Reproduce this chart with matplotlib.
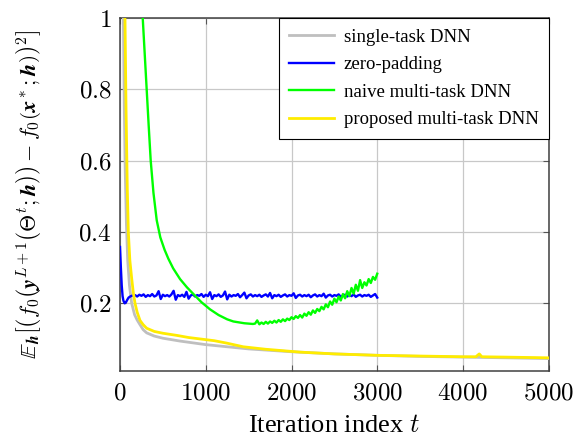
#! /usr/bin/env python3

"""
Convergence of the expected squared objective gap over training iterations.
"""

import matplotlib
matplotlib.use('Agg')
import matplotlib.pyplot as plt
from matplotlib.ticker import FuncFormatter

# single-task DNN
T_SINGLE = [0, 20, 39, 50, 60, 75, 90, 110, 136, 170, 200, 233, 270, 311, 400, 500, 700,
            1000, 1500, 2000, 2500, 3000, 3500, 4000, 4500, 5000]
Y_SINGLE = [2.5, 1.5, 1.0, 0.75, 0.58, 0.42, 0.32, 0.25, 0.2, 0.168, 0.153, 0.14, 0.126, 0.117, 0.108,
            0.102, 0.094, 0.084, 0.072, 0.064, 0.058, 0.054, 0.051, 0.049, 0.047, 0.045]

# proposed multi-task DNN
T_PROPOSED = [0, 20, 40, 58, 70, 85, 97, 115, 136, 155, 175, 200, 233, 270, 311, 400, 500, 661, 800,
              1000, 1100, 1250, 1437, 1700, 2100, 2500, 3000, 3500, 4000, 4150, 4190, 4220, 4500, 5000]
Y_PROPOSED = [3.0, 2.0, 1.3, 1.0, 0.75, 0.52, 0.40, 0.32, 0.27, 0.23, 0.2, 0.175, 0.152, 0.14, 0.13, 0.121,
              0.116, 0.11, 0.104, 0.098, 0.095, 0.088, 0.078, 0.071, 0.063, 0.058, 0.054, 0.052, 0.050,
              0.050, 0.058, 0.050, 0.049, 0.047]

# zero-padding: fast drop, then a noisy plateau up to t = 3000
T_ZERO_HEAD = [0, 10, 20, 30, 40, 55, 70, 85, 100, 125, 150]
Y_ZERO_HEAD = [0.358, 0.30, 0.25, 0.22, 0.207, 0.200, 0.203, 0.210, 0.216, 0.220, 0.222]
T_ZERO_TAIL = list(range(175, 3001, 25))
Y_ZERO_TAIL = [
    0.223, 0.219, 0.224, 0.221, 0.225, 0.218, 0.223, 0.220, 0.226, 0.219,
    0.222, 0.234, 0.212, 0.224, 0.220, 0.223, 0.219, 0.225, 0.235, 0.210,
    0.223, 0.220, 0.224, 0.218, 0.232, 0.213, 0.222, 0.225, 0.219, 0.223,
    0.221, 0.226, 0.218, 0.224, 0.220, 0.231, 0.212, 0.223, 0.220, 0.225,
    0.218, 0.222, 0.233, 0.211, 0.224, 0.219, 0.223, 0.221, 0.226, 0.217,
    0.223, 0.230, 0.214, 0.222, 0.225, 0.219, 0.223, 0.220, 0.224, 0.218,
    0.222, 0.225, 0.219, 0.229, 0.214, 0.223, 0.220, 0.224, 0.218, 0.222,
    0.225, 0.219, 0.223, 0.221, 0.228, 0.215, 0.222, 0.224, 0.219, 0.223,
    0.220, 0.224, 0.217, 0.222, 0.225, 0.219, 0.223, 0.220, 0.227, 0.216,
    0.222, 0.224, 0.219, 0.223, 0.221, 0.225, 0.218, 0.222, 0.224, 0.219,
    0.223, 0.220, 0.225, 0.218, 0.222, 0.224, 0.219, 0.223, 0.221, 0.224,
    0.218, 0.222, 0.226, 0.216,
]

# naive multi-task DNN: smooth decay, then noisy rise up to t = 3000
T_NAIVE_HEAD = [200, 240, 265, 288, 311, 334, 358, 390, 428, 470, 520, 564, 620, 700, 780, 856, 950,
                1050, 1150, 1250, 1322, 1450, 1550]
Y_NAIVE_HEAD = [1.4, 1.12, 1.0, 0.9, 0.8, 0.7, 0.6, 0.51, 0.433, 0.385, 0.35, 0.325, 0.298, 0.268,
                0.245, 0.226, 0.203, 0.183, 0.167, 0.155, 0.149, 0.144, 0.142]
T_NAIVE_TAIL = list(range(1575, 3001, 25))
Y_NAIVE_TAIL = [
    0.143, 0.152, 0.141, 0.146, 0.142, 0.148, 0.143, 0.149, 0.145, 0.151,
    0.146, 0.153, 0.148, 0.155, 0.150, 0.157, 0.153, 0.161, 0.156, 0.164,
    0.159, 0.167, 0.160, 0.171, 0.165, 0.175, 0.168, 0.180, 0.173, 0.184,
    0.178, 0.190, 0.183, 0.197, 0.189, 0.205, 0.196, 0.213, 0.203, 0.219,
    0.208, 0.226, 0.214, 0.234, 0.220, 0.243, 0.227, 0.252, 0.235, 0.265,
    0.243, 0.259, 0.250, 0.268, 0.257, 0.274, 0.266, 0.283,
]

SERIES = [
    (T_SINGLE, Y_SINGLE, '#bfbfbf', 2.0, 'single-task DNN'),
    (T_ZERO_HEAD + T_ZERO_TAIL, Y_ZERO_HEAD + Y_ZERO_TAIL, '#0000ff', 1.7, 'zero-padding'),
    (T_NAIVE_HEAD + T_NAIVE_TAIL, Y_NAIVE_HEAD + Y_NAIVE_TAIL, '#00ff00', 1.7, 'naive multi-task DNN'),
    (T_PROPOSED, Y_PROPOSED, '#ffec00', 2.0, 'proposed multi-task DNN'),
]

X_TICKS = [0, 1000, 2000, 3000, 4000, 5000]
Y_TICKS = [0.2, 0.4, 0.6, 0.8, 1]

YLABEL = (r'$\mathbb{E}_{\boldsymbol{h}}\left[\left(f_0\left(\boldsymbol{y}^{L+1}'
          r'\left(\boldsymbol{\Theta}^t;\boldsymbol{h}\right)\right)-f_0\left(\boldsymbol{x}^*;'
          r'\boldsymbol{h}\right)\right)^2\right]$')


def main() -> None:
    """Main entry-point for script"""
    plt.rcParams['font.family'] = ['Liberation Serif', 'DejaVu Serif']
    plt.rcParams['mathtext.fontset'] = 'cm'

    fig = plt.figure(figsize=(5.77, 4.43), dpi=100)
    ax = fig.add_axes([0.208, 0.1625, 0.743, 0.7965])

    for t, y, color, lw, label in SERIES:
        ax.plot(t, y, color=color, lw=lw, label=label, zorder=3)

    ax.set_xlim(0, 5000)
    ax.set_ylim(0.01, 1)
    ax.set_xticks(X_TICKS)
    ax.set_yticks(Y_TICKS)
    ax.xaxis.set_major_formatter(FuncFormatter(lambda v, _: f'${v:g}$'))
    ax.yaxis.set_major_formatter(FuncFormatter(lambda v, _: f'${v:g}$'))
    ax.tick_params(direction='in', length=4, width=0.8, color='#555555', labelsize=18,
                   top=True, right=True)
    ax.tick_params(axis='x', pad=8)
    ax.tick_params(axis='y', pad=6)

    ax.grid(visible=True, color='#c8c8c8', lw=0.9)
    for spine in ax.spines.values():
        spine.set_color('#404040')
        spine.set_linewidth(1.1)

    ax.set_xlabel(r'Iteration index $t$', fontsize=19, labelpad=8)
    ax.set_ylabel(YLABEL, fontsize=16)
    ax.yaxis.set_label_coords(-0.18, 0.5)

    leg = ax.legend(loc='upper right', fontsize=13.5, frameon=True, fancybox=False, framealpha=1,
                    borderaxespad=0, handlelength=2.4, labelspacing=0.56, borderpad=0.55,
                    handletextpad=0.5)
    leg.get_frame().set_edgecolor('black')
    leg.get_frame().set_linewidth(0.8)

    fig.savefig('out.png')


if __name__ == '__main__':
    main()
